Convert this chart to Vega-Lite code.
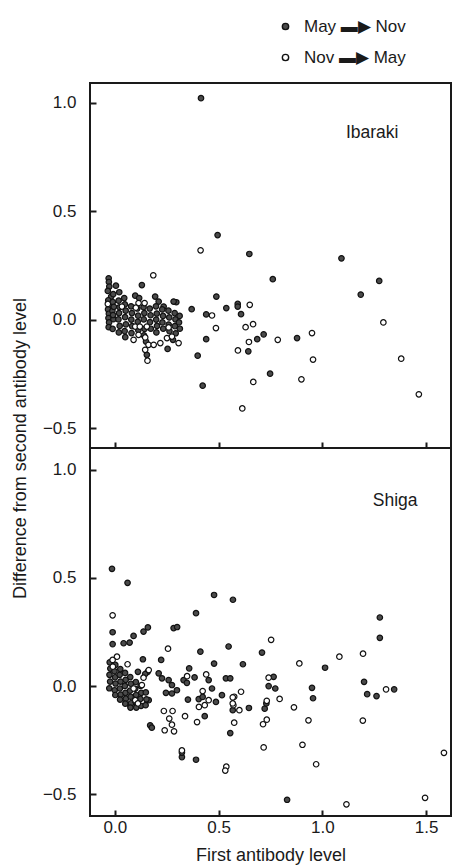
{
"$schema":"https://vega.github.io/schema/vega-lite/v6.json",
"autosize":{"type":"pad"},
"padding":{"left":10,"top":18,"right":3,"bottom":2},
"spacing":0,
"bounds":"flush",
"config":{
 "font":"Liberation Sans",
 "view":{"stroke":"#1a1a1a","strokeWidth":2},
 "concat":{"spacing":0},
 "axis":{"domain":false,"grid":false,"tickColor":"#1a1a1a","tickSize":-6,"tickWidth":2,"labelFontSize":17,"labelColor":"#1a1a1a","labelPadding":20,"titleFontSize":18,"titleFontWeight":"normal","titleColor":"#1a1a1a"},
 "legend":{"labelFontSize":17,"labelColor":"#1a1a1a","symbolSize":40,"symbolStrokeWidth":1.4,"rowPadding":13,"labelOffset":10}
},
"data":{"values":[
{"p":"I","d":"M","x":0.415,"y":1.02},{"p":"I","d":"M","x":0.495,"y":0.39},{"p":"I","d":"M","x":0.648,"y":0.303},{"p":"I","d":"M","x":1.092,"y":0.283},{"p":"I","d":"M","x":0.761,"y":0.187},{"p":"I","d":"M","x":1.274,"y":0.179},{"p":"I","d":"M","x":1.185,"y":0.116},{"p":"I","d":"M","x":0.13,"y":0.16},{"p":"I","d":"M","x":0.489,"y":0.107},{"p":"I","d":"M","x":0.37,"y":0.049},{"p":"I","d":"M","x":0.44,"y":0.025},{"p":"I","d":"M","x":0.537,"y":0.054},{"p":"I","d":"M","x":0.592,"y":0.073},{"p":"I","d":"M","x":0.592,"y":0.061},{"p":"I","d":"M","x":0.608,"y":0.026},{"p":"I","d":"M","x":0.296,"y":0.081},{"p":"I","d":"M","x":0.283,"y":0.084},{"p":"I","d":"M","x":0.717,"y":-0.067},{"p":"I","d":"M","x":0.686,"y":-0.089},{"p":"I","d":"M","x":0.878,"y":-0.084},{"p":"I","d":"M","x":0.643,"y":-0.145},{"p":"I","d":"M","x":0.748,"y":-0.248},{"p":"I","d":"M","x":0.44,"y":-0.089},{"p":"I","d":"M","x":0.399,"y":-0.165},{"p":"I","d":"M","x":0.423,"y":-0.303},{"p":"I","d":"M","x":0.254,"y":-0.134},{"p":"I","d":"M","x":0.28,"y":-0.092},{"p":"I","d":"M","x":0.154,"y":-0.161},{"p":"I","d":"M","x":0.098,"y":0.111},{"p":"I","d":"M","x":0.117,"y":0.1},{"p":"I","d":"M","x":0.194,"y":0.107},{"p":"I","d":"M","x":0.211,"y":0.084},{"p":"I","d":"M","x":0.235,"y":0.061},{"p":"I","d":"M","x":0.005,"y":0.157},{"p":"I","d":"M","x":0.021,"y":0.127},{"p":"I","d":"M","x":0.045,"y":0.1},{"p":"I","d":"M","x":-0.018,"y":0.107},{"p":"I","d":"M","x":-0.03,"y":0.191},{"p":"I","d":"M","x":-0.029,"y":0.174},{"p":"I","d":"M","x":-0.027,"y":0.153},{"p":"I","d":"M","x":-0.034,"y":0.133},
{"p":"I","d":"M","x":-0.032,"y":0.09},{"p":"I","d":"M","x":-0.03,"y":0.068},{"p":"I","d":"M","x":-0.033,"y":0.048},{"p":"I","d":"M","x":-0.029,"y":0.028},{"p":"I","d":"M","x":-0.031,"y":0.008},{"p":"I","d":"M","x":-0.028,"y":-0.012},{"p":"I","d":"M","x":-0.03,"y":-0.034},
{"p":"I","d":"M","x":-0.008,"y":0.118},{"p":"I","d":"M","x":-0.01,"y":0.082},{"p":"I","d":"M","x":-0.012,"y":0.041},{"p":"I","d":"M","x":-0.007,"y":0.003},{"p":"I","d":"M","x":-0.011,"y":-0.042},{"p":"I","d":"M","x":-0.005,"y":0.06},{"p":"I","d":"M","x":-0.009,"y":0.022},
{"p":"I","d":"M","x":0.018,"y":0.088},{"p":"I","d":"M","x":0.022,"y":0.058},{"p":"I","d":"M","x":0.02,"y":0.031},{"p":"I","d":"M","x":0.017,"y":0.002},{"p":"I","d":"M","x":0.023,"y":-0.028},{"p":"I","d":"M","x":0.019,"y":-0.058},
{"p":"I","d":"M","x":0.048,"y":0.071},{"p":"I","d":"M","x":0.052,"y":0.042},{"p":"I","d":"M","x":0.049,"y":0.012},{"p":"I","d":"M","x":0.053,"y":-0.021},{"p":"I","d":"M","x":0.047,"y":-0.052},{"p":"I","d":"M","x":0.05,"y":-0.08},
{"p":"I","d":"M","x":0.078,"y":0.062},{"p":"I","d":"M","x":0.082,"y":0.031},{"p":"I","d":"M","x":0.079,"y":0.001},{"p":"I","d":"M","x":0.083,"y":-0.029},{"p":"I","d":"M","x":0.08,"y":-0.061},
{"p":"I","d":"M","x":0.108,"y":0.052},{"p":"I","d":"M","x":0.112,"y":0.019},{"p":"I","d":"M","x":0.11,"y":-0.009},{"p":"I","d":"M","x":0.113,"y":-0.048},
{"p":"I","d":"M","x":0.138,"y":0.058},{"p":"I","d":"M","x":0.142,"y":0.031},{"p":"I","d":"M","x":0.139,"y":0.002},{"p":"I","d":"M","x":0.143,"y":-0.042},{"p":"I","d":"M","x":0.14,"y":-0.072},{"p":"I","d":"M","x":0.15,"y":-0.1},
{"p":"I","d":"M","x":0.168,"y":0.052},{"p":"I","d":"M","x":0.172,"y":0.021},{"p":"I","d":"M","x":0.169,"y":-0.011},{"p":"I","d":"M","x":0.173,"y":-0.041},
{"p":"I","d":"M","x":0.198,"y":0.062},{"p":"I","d":"M","x":0.202,"y":0.029},{"p":"I","d":"M","x":0.199,"y":0.001},{"p":"I","d":"M","x":0.203,"y":-0.028},{"p":"I","d":"M","x":0.2,"y":-0.058},
{"p":"I","d":"M","x":0.228,"y":0.048},{"p":"I","d":"M","x":0.232,"y":0.018},{"p":"I","d":"M","x":0.229,"y":-0.012},{"p":"I","d":"M","x":0.233,"y":-0.041},
{"p":"I","d":"M","x":0.258,"y":0.042},{"p":"I","d":"M","x":0.262,"y":0.011},{"p":"I","d":"M","x":0.259,"y":-0.022},{"p":"I","d":"M","x":0.263,"y":-0.052},
{"p":"I","d":"M","x":0.288,"y":0.031},{"p":"I","d":"M","x":0.292,"y":0.002},{"p":"I","d":"M","x":0.289,"y":-0.029},{"p":"I","d":"M","x":0.293,"y":-0.062},
{"p":"I","d":"M","x":0.312,"y":0.018},{"p":"I","d":"M","x":0.309,"y":-0.012},{"p":"I","d":"M","x":0.313,"y":-0.041},
{"p":"I","d":"N","x":0.413,"y":0.32},{"p":"I","d":"N","x":0.185,"y":0.205},{"p":"I","d":"N","x":0.468,"y":0.02},{"p":"I","d":"N","x":0.65,"y":0.069},{"p":"I","d":"N","x":0.487,"y":-0.038},{"p":"I","d":"N","x":0.63,"y":-0.034},{"p":"I","d":"N","x":0.666,"y":-0.02},{"p":"I","d":"N","x":1.294,"y":-0.012},{"p":"I","d":"N","x":0.646,"y":-0.102},{"p":"I","d":"N","x":0.785,"y":-0.092},{"p":"I","d":"N","x":0.95,"y":-0.061},{"p":"I","d":"N","x":0.593,"y":-0.141},{"p":"I","d":"N","x":0.955,"y":-0.183},{"p":"I","d":"N","x":1.38,"y":-0.179},{"p":"I","d":"N","x":0.667,"y":-0.286},{"p":"I","d":"N","x":0.899,"y":-0.274},{"p":"I","d":"N","x":1.465,"y":-0.343},{"p":"I","d":"N","x":0.614,"y":-0.408},{"p":"I","d":"N","x":-0.034,"y":0.073},{"p":"I","d":"N","x":0.034,"y":0.061},{"p":"I","d":"N","x":0.114,"y":0.077},{"p":"I","d":"N","x":0.143,"y":0.077},{"p":"I","d":"N","x":0.101,"y":0.056},{"p":"I","d":"N","x":0.098,"y":-0.031},{"p":"I","d":"N","x":0.12,"y":-0.031},{"p":"I","d":"N","x":0.154,"y":-0.031},{"p":"I","d":"N","x":0.09,"y":-0.092},{"p":"I","d":"N","x":0.114,"y":-0.069},{"p":"I","d":"N","x":0.146,"y":-0.081},{"p":"I","d":"N","x":0.162,"y":-0.115},{"p":"I","d":"N","x":0.187,"y":-0.115},{"p":"I","d":"N","x":0.219,"y":-0.107},{"p":"I","d":"N","x":0.251,"y":-0.084},{"p":"I","d":"N","x":0.275,"y":-0.077},{"p":"I","d":"N","x":0.307,"y":-0.107},{"p":"I","d":"N","x":0.146,"y":-0.138},{"p":"I","d":"N","x":0.157,"y":-0.188},{"p":"I","d":"N","x":0.259,"y":-0.035},
{"p":"S","d":"M","x":-0.014,"y":0.542},{"p":"S","d":"M","x":0.061,"y":0.477},{"p":"S","d":"M","x":0.478,"y":0.421},{"p":"S","d":"M","x":0.569,"y":0.399},{"p":"S","d":"M","x":0.391,"y":0.337},{"p":"S","d":"M","x":1.277,"y":0.317},{"p":"S","d":"M","x":1.277,"y":0.223},{"p":"S","d":"M","x":-0.011,"y":0.249},{"p":"S","d":"M","x":-0.011,"y":0.194},{"p":"S","d":"M","x":0.042,"y":0.198},{"p":"S","d":"M","x":0.071,"y":0.201},{"p":"S","d":"M","x":0.09,"y":0.232},{"p":"S","d":"M","x":0.138,"y":0.252},{"p":"S","d":"M","x":0.159,"y":0.271},{"p":"S","d":"M","x":0.283,"y":0.268},{"p":"S","d":"M","x":0.3,"y":0.273},{"p":"S","d":"M","x":0.548,"y":0.183},{"p":"S","d":"M","x":0.412,"y":0.159},{"p":"S","d":"M","x":0.709,"y":0.155},{"p":"S","d":"M","x":1.013,"y":0.085},{"p":"S","d":"M","x":0.617,"y":0.101},{"p":"S","d":"M","x":0.478,"y":0.104},{"p":"S","d":"M","x":0.135,"y":0.124},{"p":"S","d":"M","x":0.223,"y":0.121},{"p":"S","d":"M","x":0.358,"y":0.082},{"p":"S","d":"M","x":0.111,"y":0.066},{"p":"S","d":"M","x":0.158,"y":0.066},{"p":"S","d":"M","x":0.146,"y":0.056},
{"p":"S","d":"M","x":0.211,"y":0.059},{"p":"S","d":"M","x":0.227,"y":0.036},{"p":"S","d":"M","x":0.259,"y":0.028},{"p":"S","d":"M","x":0.275,"y":0.005},{"p":"S","d":"M","x":0.299,"y":-0.019},{"p":"S","d":"M","x":0.246,"y":-0.031},{"p":"S","d":"M","x":0.275,"y":-0.034},{"p":"S","d":"M","x":0.331,"y":0.028},{"p":"S","d":"M","x":0.347,"y":0.015},{"p":"S","d":"M","x":0.384,"y":0.04},{"p":"S","d":"M","x":0.452,"y":0.028},{"p":"S","d":"M","x":0.468,"y":-0.011},{"p":"S","d":"M","x":0.535,"y":0.036},{"p":"S","d":"M","x":0.556,"y":0.036},{"p":"S","d":"M","x":0.741,"y":0.0},{"p":"S","d":"M","x":0.765,"y":0.043},{"p":"S","d":"M","x":0.773,"y":-0.011},{"p":"S","d":"M","x":0.95,"y":-0.008},{"p":"S","d":"M","x":0.955,"y":-0.056},{"p":"S","d":"M","x":1.201,"y":0.02},{"p":"S","d":"M","x":1.216,"y":-0.037},{"p":"S","d":"M","x":1.261,"y":-0.046},{"p":"S","d":"M","x":1.346,"y":-0.015},{"p":"S","d":"M","x":0.352,"y":-0.062},{"p":"S","d":"M","x":0.404,"y":-0.06},{"p":"S","d":"M","x":0.423,"y":-0.05},{"p":"S","d":"M","x":0.487,"y":-0.073},{"p":"S","d":"M","x":0.516,"y":-0.042},{"p":"S","d":"M","x":0.568,"y":-0.111},{"p":"S","d":"M","x":0.646,"y":-0.101},{"p":"S","d":"M","x":0.722,"y":-0.104},{"p":"S","d":"M","x":0.73,"y":-0.08},{"p":"S","d":"M","x":0.556,"y":-0.217},{"p":"S","d":"M","x":0.433,"y":-0.139},{"p":"S","d":"M","x":0.17,"y":-0.181},{"p":"S","d":"M","x":0.178,"y":-0.192},{"p":"S","d":"M","x":0.323,"y":-0.328},{"p":"S","d":"M","x":0.323,"y":-0.307},{"p":"S","d":"M","x":0.391,"y":-0.34},{"p":"S","d":"M","x":0.83,"y":-0.525},{"p":"S","d":"M","x":0.074,"y":-0.088},{"p":"S","d":"M","x":0.106,"y":-0.088},{"p":"S","d":"M","x":0.163,"y":-0.065},
{"p":"S","d":"M","x":-0.025,"y":0.11},{"p":"S","d":"M","x":-0.022,"y":0.081},{"p":"S","d":"M","x":-0.026,"y":0.052},{"p":"S","d":"M","x":-0.023,"y":0.021},{"p":"S","d":"M","x":-0.027,"y":-0.01},
{"p":"S","d":"M","x":0.002,"y":0.098},{"p":"S","d":"M","x":-0.002,"y":0.069},{"p":"S","d":"M","x":0.001,"y":0.041},{"p":"S","d":"M","x":0.003,"y":0.012},{"p":"S","d":"M","x":-0.001,"y":-0.019},{"p":"S","d":"M","x":0.002,"y":-0.041},
{"p":"S","d":"M","x":0.026,"y":0.079},{"p":"S","d":"M","x":0.023,"y":0.052},{"p":"S","d":"M","x":0.027,"y":0.021},{"p":"S","d":"M","x":0.024,"y":-0.011},{"p":"S","d":"M","x":0.028,"y":-0.039},{"p":"S","d":"M","x":0.025,"y":-0.062},
{"p":"S","d":"M","x":0.049,"y":0.061},{"p":"S","d":"M","x":0.052,"y":0.029},{"p":"S","d":"M","x":0.048,"y":0.001},{"p":"S","d":"M","x":0.051,"y":-0.031},{"p":"S","d":"M","x":0.053,"y":-0.058},{"p":"S","d":"M","x":0.05,"y":-0.081},
{"p":"S","d":"M","x":0.074,"y":0.042},{"p":"S","d":"M","x":0.077,"y":0.011},{"p":"S","d":"M","x":0.073,"y":-0.021},{"p":"S","d":"M","x":0.076,"y":-0.049},{"p":"S","d":"M","x":0.078,"y":-0.079},{"p":"S","d":"M","x":0.075,"y":-0.099},
{"p":"S","d":"M","x":0.101,"y":0.019},{"p":"S","d":"M","x":0.098,"y":-0.012},{"p":"S","d":"M","x":0.102,"y":-0.041},{"p":"S","d":"M","x":0.099,"y":-0.071},{"p":"S","d":"M","x":0.103,"y":-0.099},
{"p":"S","d":"M","x":0.124,"y":0.001},{"p":"S","d":"M","x":0.127,"y":-0.031},{"p":"S","d":"M","x":0.123,"y":-0.059},{"p":"S","d":"M","x":0.126,"y":-0.091},
{"p":"S","d":"M","x":0.149,"y":-0.029},{"p":"S","d":"M","x":0.152,"y":-0.061},{"p":"S","d":"M","x":0.148,"y":-0.088},
{"p":"S","d":"N","x":-0.011,"y":0.327},{"p":"S","d":"N","x":0.256,"y":0.173},{"p":"S","d":"N","x":0.753,"y":0.214},{"p":"S","d":"N","x":0.889,"y":0.105},{"p":"S","d":"N","x":1.082,"y":0.136},{"p":"S","d":"N","x":1.196,"y":0.15},{"p":"S","d":"N","x":0.01,"y":0.136},{"p":"S","d":"N","x":-0.011,"y":0.121},{"p":"S","d":"N","x":0.061,"y":0.101},{"p":"S","d":"N","x":0.163,"y":0.074},{"p":"S","d":"N","x":0.348,"y":0.046},{"p":"S","d":"N","x":0.44,"y":0.054},{"p":"S","d":"N","x":0.741,"y":0.039},{"p":"S","d":"N","x":1.307,"y":-0.015},{"p":"S","d":"N","x":0.608,"y":-0.026},{"p":"S","d":"N","x":0.575,"y":-0.049},{"p":"S","d":"N","x":0.423,"y":-0.023},{"p":"S","d":"N","x":0.794,"y":-0.059},{"p":"S","d":"N","x":0.732,"y":-0.068},{"p":"S","d":"N","x":0.863,"y":-0.098},{"p":"S","d":"N","x":0.732,"y":-0.155},{"p":"S","d":"N","x":0.714,"y":-0.176},{"p":"S","d":"N","x":0.933,"y":-0.158},{"p":"S","d":"N","x":1.195,"y":-0.159},{"p":"S","d":"N","x":0.717,"y":-0.283},{"p":"S","d":"N","x":0.904,"y":-0.271},{"p":"S","d":"N","x":0.97,"y":-0.361},{"p":"S","d":"N","x":1.586,"y":-0.308},{"p":"S","d":"N","x":1.116,"y":-0.546},{"p":"S","d":"N","x":1.495,"y":-0.516},{"p":"S","d":"N","x":0.236,"y":-0.115},{"p":"S","d":"N","x":0.278,"y":-0.115},{"p":"S","d":"N","x":0.262,"y":-0.15},{"p":"S","d":"N","x":0.275,"y":-0.178},{"p":"S","d":"N","x":0.24,"y":-0.204},{"p":"S","d":"N","x":0.285,"y":-0.209},{"p":"S","d":"N","x":0.338,"y":-0.139},{"p":"S","d":"N","x":0.396,"y":-0.166},{"p":"S","d":"N","x":0.405,"y":-0.096},{"p":"S","d":"N","x":0.433,"y":-0.088},{"p":"S","d":"N","x":0.452,"y":-0.065},{"p":"S","d":"N","x":0.571,"y":-0.088},{"p":"S","d":"N","x":0.6,"y":-0.111},{"p":"S","d":"N","x":0.575,"y":-0.169},{"p":"S","d":"N","x":0.323,"y":-0.297},{"p":"S","d":"N","x":0.537,"y":-0.372},{"p":"S","d":"N","x":0.532,"y":-0.39},{"p":"S","d":"N","x":-0.01,"y":0.09},{"p":"S","d":"N","x":0.09,"y":-0.011},{"p":"S","d":"N","x":0.098,"y":-0.065},{"p":"S","d":"N","x":0.111,"y":-0.08},{"p":"S","d":"N","x":0.13,"y":0.005},{"p":"S","d":"N","x":0.138,"y":0.039},{"p":"S","d":"N","x":0.568,"y":-0.08},{"p":"S","d":"N","x":0.568,"y":-0.052}
]},
"vconcat":[
 {"width":361,"height":365,
  "layer":[
   {"transform":[{"filter":"datum.p==='I'"}],
    "mark":{"type":"point","shape":"circle","filled":true,"size":30,"stroke":"#111","strokeWidth":1.2,"opacity":1},
    "encoding":{
     "x":{"field":"x","type":"quantitative","scale":{"domain":[-0.12,1.62],"nice":false,"zero":false},"axis":{"values":[0,0.5,1,1.5],"labels":false,"title":null}},
     "y":{"field":"y","type":"quantitative","scale":{"domain":[-0.59,1.09],"nice":false,"zero":false},"axis":{"values":[-0.5,0,0.5,1],"format":".1f","title":"Difference from second antibody level","titleX":-70,"titleY":365,"titleAngle":-90,"titleAlign":"center","titleBaseline":"middle"}},
     "fill":{"field":"d","type":"nominal","scale":{"domain":["M","N"],"range":["#4a4a4a","#ffffff"]},
       "legend":{"title":null,"orient":"none","legendX":187,"legendY":-65,"labelExpr":"datum.label==='M' ? 'May ▬▶ Nov' : 'Nov ▬▶ May'","symbolStrokeColor":"#111"}}
    }},
   {"data":{"values":[{"x":1.24,"y":0.86,"t":"Ibaraki"}]},
    "mark":{"type":"text","fontSize":17.5,"color":"#1a1a1a"},
    "encoding":{"x":{"field":"x","type":"quantitative"},"y":{"field":"y","type":"quantitative"},"text":{"field":"t"}}}
  ]},
 {"width":361,"height":368,
  "layer":[
   {"transform":[{"filter":"datum.p==='S'"}],
    "mark":{"type":"point","shape":"circle","filled":true,"size":30,"stroke":"#111","strokeWidth":1.2,"opacity":1},
    "encoding":{
     "x":{"field":"x","type":"quantitative","scale":{"domain":[-0.12,1.62],"nice":false,"zero":false},"axis":{"values":[0,0.5,1,1.5],"format":".1f","title":"First antibody level","labelPadding":9,"titlePadding":11}},
     "y":{"field":"y","type":"quantitative","scale":{"domain":[-0.6,1.1],"nice":false,"zero":false},"axis":{"values":[-0.5,0,0.5,1],"format":".1f","title":null}},
     "fill":{"field":"d","type":"nominal","scale":{"domain":["M","N"],"range":["#4a4a4a","#ffffff"]},"legend":null}
    }},
   {"data":{"values":[{"x":1.351,"y":0.855,"t":"Shiga"}]},
    "mark":{"type":"text","fontSize":17.5,"color":"#1a1a1a"},
    "encoding":{"x":{"field":"x","type":"quantitative"},"y":{"field":"y","type":"quantitative"},"text":{"field":"t"}}}
  ]}
]
}
